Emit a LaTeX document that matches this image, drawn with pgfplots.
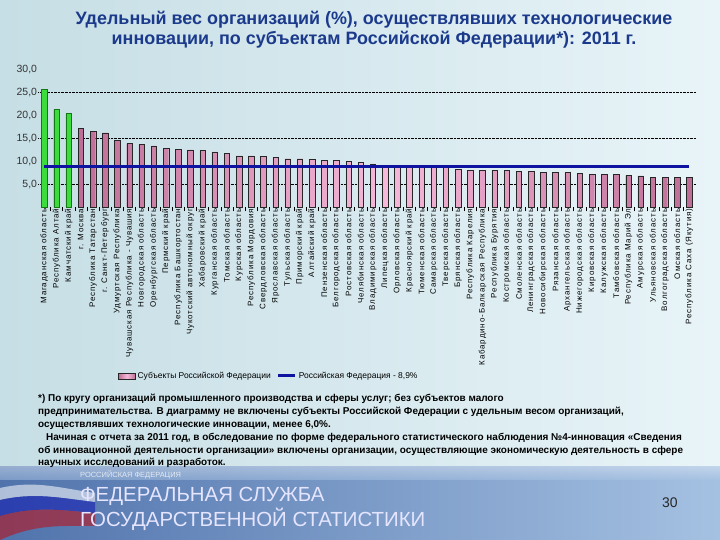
\documentclass[border=0pt]{standalone}
\usepackage{fontspec}
\setmainfont{Liberation Sans}
\newfontfamily\lblfont[LetterSpace=11]{Liberation Sans}
\usepackage{pgfplots}
\pgfplotsset{compat=1.18}
\definecolor{titleblue}{RGB}{28,58,140}
\definecolor{pinkmid}{RGB}{246,185,218}
\definecolor{pinkdark}{RGB}{190,110,150}
\definecolor{greenfill}{RGB}{60,220,60}
\definecolor{greendraw}{RGB}{20,120,20}
\definecolor{rfblue}{RGB}{15,20,160}
\definecolor{bgleft}{RGB}{198,222,229}
\definecolor{bgright}{RGB}{232,244,248}
\definecolor{banleft}{RGB}{80,115,172}
\definecolor{banright}{RGB}{165,193,226}
\pgfplotstableread{
x y
0 25.7
1 21.3
2 20.4
}\greendata
\pgfplotstableread{
x y
3 17.2
4 16.5
5 16.2
6 14.6
7 13.9
8 13.8
9 13.4
10 12.8
11 12.7
12 12.5
13 12.4
14 12.1
15 11.7
16 11.2
17 11.2
18 11.1
19 10.9
20 10.6
21 10.6
22 10.4
23 10.2
24 10.2
25 10.0
26 9.8
27 9.5
28 8.9
29 8.9
30 8.9
31 8.8
32 8.7
33 8.7
34 8.3
35 8.1
36 8.1
37 8.1
38 8.1
39 7.8
40 7.8
41 7.6
42 7.6
43 7.6
44 7.4
45 7.2
46 7.2
47 7.2
48 7.0
49 6.9
50 6.6
51 6.5
52 6.6
53 6.6
}\pinkdata
\begin{document}
\begin{tikzpicture}
\path[use as bounding box] (0,0) rectangle (720bp,540bp);
\begin{scope}[x=1bp,y=1bp]
\shade[left color=bgleft, right color=bgright] (0,73) rectangle (720,540);
\shade[left color=banleft, right color=banright] (0,0) rectangle (720,73);
\shade[top color=white!60!banright, bottom color=banright, opacity=0.5] (0,60) rectangle (720,73);
% flag-like bands
\fill[white, opacity=0.55] (0,52) .. controls (35,60) and (60,52) .. (95,47) -- (95,38) .. controls (60,42) and (35,48) .. (0,40) -- cycle;
\fill[blue!70!black, opacity=0.45] (0,40) .. controls (35,48) and (60,42) .. (95,38) -- (95,27) .. controls (60,30) and (35,34) .. (0,24) -- cycle;
\fill[red!80!black, opacity=0.5] (0,24) .. controls (35,34) and (60,30) .. (95,27) -- (95,14) .. controls (60,14) and (35,16) .. (0,0) -- cycle;
% title
\node[font=\fontsize{18}{20}\selectfont\bfseries, text=titleblue, align=center] at (374,510)
 {Удельный вес организаций (\%), осуществлявших технологические\\инновации, по субъектам Российской Федерации*): 2011 г.};
% footnote
\begin{scope}[every node/.style={anchor=base west, inner sep=0pt, font=\fontsize{10}{11}\selectfont\bfseries}]
\node at (38,139) {*) По кругу организаций промышленного производства и сферы услуг; без субъектов малого};
\node at (38,126) {предпринимательства. В диаграмму не включены субъекты Российской Федерации с удельным весом организаций,};
\node at (38,113) {осуществлявших технологические инновации, менее 6,0\%.};
\node at (46,100) {Начиная с отчета за 2011 год, в обследование по форме федерального статистического наблюдения №4-инновация «Сведения};
\node at (38,87) {об инновационной деятельности организации» включены организации, осуществляющие экономическую деятельность в сфере};
\node at (38,75) {научных исследований и разработок.};
\end{scope}
% banner text
\node[anchor=west, inner sep=0pt, font=\fontsize{7.5}{8}\selectfont, text=white, opacity=0.75] at (80,65) {РОССИЙСКАЯ ФЕДЕРАЦИЯ};
\node[anchor=west, inner sep=0pt, font=\fontsize{20.5}{22}\selectfont, text=white!90!blue] at (80,44) {ФЕДЕРАЛЬНАЯ СЛУЖБА};
\node[anchor=west, inner sep=0pt, font=\fontsize{20.5}{22}\selectfont, text=white!90!blue] at (80,21) {ГОСУДАРСТВЕННОЙ СТАТИСТИКИ};
\node[font=\fontsize{14}{16}\selectfont, text=black!85] at (670,37) {30};
\end{scope}
\begin{axis}[
 at={(38.2bp,332.5bp)}, anchor=south west, scale only axis,
 width=657.2bp, height=138bp,
 xmin=-0.5, xmax=53.5, ymin=0, ymax=30,
 axis line style={draw=none},
 xtick={0,...,53},
 xticklabels={{Магаданская область},{Республика Алтай},{Камчатский край},{г. Москва},{Республика Татарстан},{г. Санкт-Петербург},{Удмуртская Республика},{Чувашская Республика - Чувашия},{Новгородская область},{Оренбургская область},{Пермский край},{Республика Башкортостан},{Чукотский автономный округ},{Хабаровский край},{Курганская область},{Томская область},{Курская область},{Республика Мордовия},{Свердловская область},{Ярославская область},{Тульская область},{Приморский край},{Алтайский край},{Пензенская область},{Белгородская область},{Ростовская область},{Челябинская область},{Владимирская область},{Липецкая область},{Орловская область},{Красноярский край},{Тюменская область},{Самарская область},{Тверская область},{Брянская область},{Республика Карелия},{Кабардино-Балкарская Республика},{Республика Бурятия},{Костромская область},{Смоленская область},{Ленинградская область},{Новосибирская область},{Рязанская область},{Архангельская область},{Нижегородская область},{Кировская область},{Калужская область},{Тамбовская область},{Республика Марий Эл},{Амурская область},{Ульяновская область},{Волгоградская область},{Омская область},{Республика Саха (Якутия)}},
 minor xtick={0.5,1.5,...,52.5},
 major tick length=0pt, minor tick length=4bp,
 tick align=outside, xtick pos=bottom, ytick pos=left,
 minor tick style={black, thin},
 x tick label style={rotate=90, anchor=east, font=\lblfont\fontsize{8}{9}\selectfont, inner sep=1bp},
 ytick={5,10,...,30},
 y tick label style={font=\fontsize{10.5}{11}\selectfont, text=black!80, inner sep=1bp, /pgf/number format/.cd, fixed, fixed zerofill, precision=1, use comma, assume math mode=true},
 extra y ticks={5,15,25}, extra y tick labels={},
 extra y tick style={ymajorgrids=true, major grid style={black, densely dotted}},
 legend style={at={(0.1214,-1.221)}, anchor=west, draw=none, fill=none, legend columns=2,
   font=\fontsize{8.5}{10}\selectfont, inner sep=0pt,
   /tikz/every even column/.append style={column sep=4bp}},
]
\addplot[ybar, bar width=5.5bp, bar shift=0pt, fill=greenfill, draw=greendraw, forget plot] table[x=x,y=y] {\greendata};
\addplot[ybar, bar width=5.5bp, bar shift=0pt, draw=black!85, left color=pinkdark, right color=pinkdark, middle color=pinkmid, area legend] table[x=x,y=y] {\pinkdata};
\addlegendentry{Субъекты Российской Федерации}
\addplot[rfblue, line width=3bp] coordinates {(0,8.9) (53,8.9)};
\addlegendentry{Российская Федерация - 8,9\%}
\end{axis}
\end{tikzpicture}
\end{document}
